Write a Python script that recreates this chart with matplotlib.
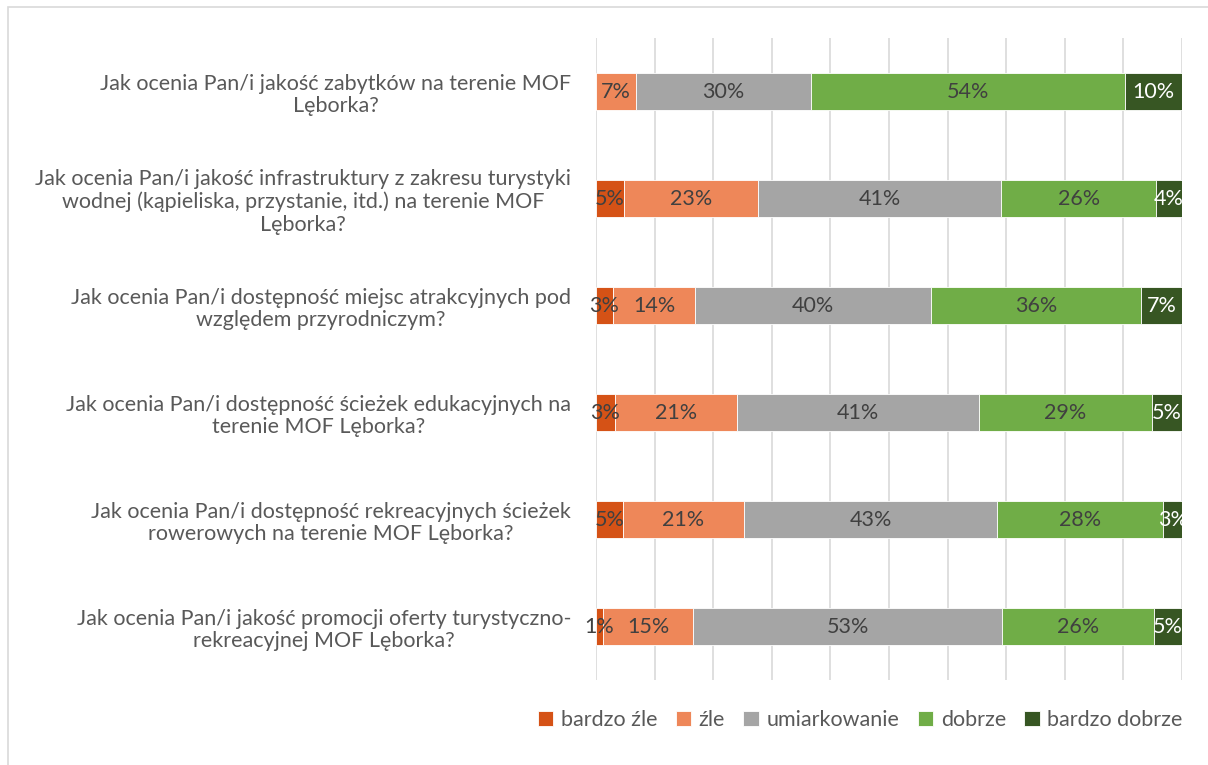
import matplotlib.pyplot as plt
from matplotlib.patches import Rectangle

plt.rcParams['font.family'] = ['Lato', 'DejaVu Sans']

questions = [
    "Jak ocenia Pan/i jakość zabytków na terenie MOF\nLęborka?",
    "Jak ocenia Pan/i jakość infrastruktury z zakresu turystyki\nwodnej (kąpieliska, przystanie, itd.) na terenie MOF\nLęborka?",
    "Jak ocenia Pan/i dostępność miejsc atrakcyjnych pod\nwzględem przyrodniczym?",
    "Jak ocenia Pan/i dostępność ścieżek edukacyjnych na\nterenie MOF Lęborka?",
    "Jak ocenia Pan/i dostępność rekreacyjnych ścieżek\nrowerowych na terenie MOF Lęborka?",
    "Jak ocenia Pan/i jakość promocji oferty turystyczno-\nrekreacyjnej MOF Lęborka?",
]
series = ["bardzo źle", "źle", "umiarkowanie", "dobrze", "bardzo dobrze"]

bardzo_zle = [0.0, 4.8, 2.9, 3.2, 4.6, 1.2]
zle = [6.8, 22.9, 14.0, 20.8, 20.6, 15.4]
umiarkowanie = [29.9, 41.4, 40.3, 41.4, 43.3, 52.7]
dobrze = [53.6, 26.5, 35.8, 29.4, 28.3, 25.9]
bardzo_dobrze = [9.7, 4.4, 7.0, 5.2, 3.2, 4.8]

values = [bardzo_zle, zle, umiarkowanie, dobrze, bardzo_dobrze]
colors = ["#D55216", "#EE8759", "#A5A5A5", "#70AD47", "#375623"]
label_colors = ["#404040", "#404040", "#404040", "#404040", "#FFFFFF"]

fs = 15.5

fig = plt.figure(figsize=(12.08, 7.65), dpi=100)
ax = fig.add_axes([0.4934, 0.111, 0.4851, 0.839])

# outer chart frame
fig.patches.append(Rectangle((8 / 1208, -0.1), 1.2, (765 - 7) / 765 + 0.1,
                             transform=fig.transFigure, fill=False,
                             edgecolor="#D9D9D9", linewidth=1.2))

ypos = list(range(len(questions)))
left = [0.0] * len(questions)
for name, vals, col, lcol in zip(series, values, colors, label_colors):
    bars = ax.barh(ypos, vals, left=left, height=0.35, color=col,
                   edgecolor="white", linewidth=0.6, label=name, zorder=3)
    labels = [f"{v:.0f}%" if v > 0 else "" for v in vals]
    txts = ax.bar_label(bars, labels=labels, label_type="center", color=lcol,
                        fontsize=fs)
    for t in txts:
        t.set_zorder(6)
        t.set_clip_on(False)
    left = [a + b for a, b in zip(left, vals)]

ax.set_xlim(0, 100)
ax.set_ylim(len(questions) - 0.5, -0.5)
ax.set_xticks(range(0, 101, 10))
ax.set_xticklabels([])
ax.tick_params(axis="x", length=0)
ax.grid(axis="x", color="#D9D9D9", linewidth=1.2, zorder=0)
for s in ax.spines.values():
    s.set_visible(False)

ax.set_yticks(ypos)
ax.set_yticklabels(questions, fontsize=fs, color="#595959", linespacing=1.15)
ax.tick_params(axis="y", length=0, pad=18)
for t in ax.get_yticklabels():
    t.set_multialignment("center")

leg = fig.legend(loc="center right", bbox_to_anchor=(0.979, 1 - 720 / 765),
                 ncol=5, frameon=False, fontsize=fs, handlelength=0.72,
                 handleheight=0.72, handletextpad=0.35, columnspacing=0.85,
                 borderpad=0, borderaxespad=0)
for t in leg.get_texts():
    t.set_color("#595959")

fig.savefig("out.png", dpi=100)
